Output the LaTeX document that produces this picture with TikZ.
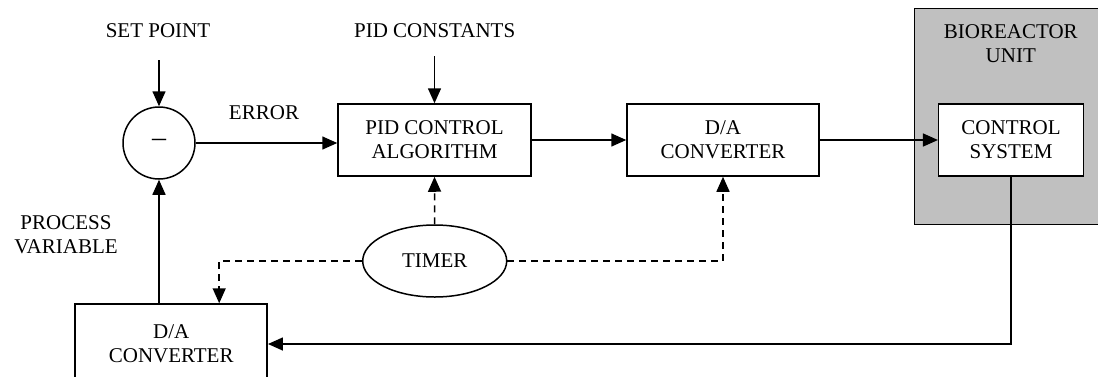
\documentclass[tikz,border=0pt]{standalone}
\usepackage{fontspec}
\setmainfont{Liberation Serif}
\usetikzlibrary{arrows.meta,shapes.geometric,calc}
\definecolor{biogray}{HTML}{C0C0C0}
\begin{document}
\begin{tikzpicture}[x=1pt,y=-1pt,
  every node/.style={font=\fontsize{21}{24}\selectfont, align=center, inner sep=0pt},
  blk/.style={draw, line width=1.5pt, fill=white, minimum height=72pt},
  arr/.style={line width=1.5pt, -{Triangle[length=15pt,width=13pt]}},
  darr/.style={line width=1.5pt, dash pattern=on 7pt off 5pt, -{Triangle[length=15pt,width=13pt]}},
  lbl/.style={}]
\useasboundingbox (0,0) rectangle (1098,376);
\clip (0,0) rectangle (1098,376);
% bioreactor unit
\draw[line width=1.5pt, fill=biogray] (914.7,8.3) rectangle (1110,224.3);
\node[lbl] (biolbl) at (1010.8,44) {BIOREACTOR\\UNIT};
% blocks
\node[draw, circle, line width=1.5pt, minimum size=72pt] (sum) at (159,143) {{\fontsize{28}{28}\selectfont –}};
\node[blk, minimum width=193pt] (pid) at (434.5,140) {PID CONTROL\\ALGORITHM};
\node[blk, minimum width=192pt] (da1) at (723,140) {D/A\\CONVERTER};
\node[blk, minimum width=144.6pt] (cs) at (1011,140) {CONTROL\\SYSTEM};
\node[blk, minimum width=192pt, minimum height=80pt] (da2) at (171.2,344) {D/A\\CONVERTER};
\node[draw, ellipse, line width=1.5pt, minimum width=144pt, minimum height=72pt] (timer) at (434.7,261) {TIMER};
% labels
\node[lbl] (sp) at (158,31) {SET POINT};
\node[lbl] (pc) at (434.7,31) {PID CONSTANTS};
\node[lbl] (err) at (264,113) {ERROR};
\node[lbl] (pv) at (66,234.5) {PROCESS\\VARIABLE};
% connectors
\coordinate (spend) at (159,60);
\coordinate (pcend) at (434.5,56);
\draw[arr] (spend) -- (sum.north);
\draw[arr] (pcend) -- (pid.north);
\draw[arr] (sum.east) -- (sum.east -| pid.west);
\draw[arr] (pid.east) -- (da1.west);
\draw[arr] (da1.east) -- (cs.west);
\draw[arr] (cs.south) |- (da2.east);
\draw[arr] (sum.south |- da2.north) -- (sum.south);
\draw[darr] (timer.north) -- (pid.south);
\draw[darr] (timer.west) -| ($(da2.north)+(48,0)$);
\draw[darr] (timer.east) -| (da1.south);
\end{tikzpicture}
\end{document}
